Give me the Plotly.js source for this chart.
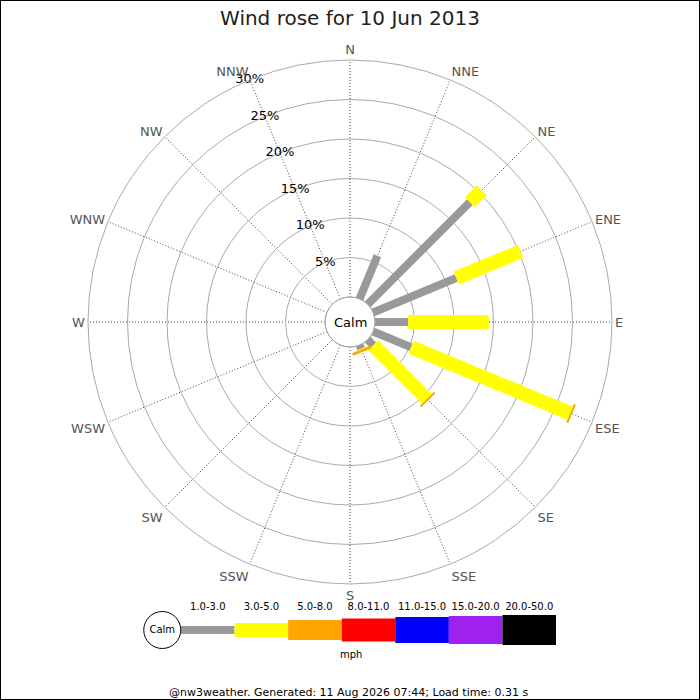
<!DOCTYPE html>
<html>
<head>
<meta charset="utf-8">
<script src="https://cdn.plot.ly/plotly-3.0.1.min.js"></script>
<style>
  html, body { margin: 0; padding: 0; background: #fff; }
  #rose { width: 700px; height: 700px; }
</style>
</head>
<body>
<div id="rose"></div>
<script>
var directions = ['N', 'NNE', 'NE', 'ENE', 'E', 'ESE', 'SE', 'SSE',
  'S', 'SSW', 'SW', 'WSW', 'W', 'WNW', 'NW', 'NNW'];
var speedBins = ['1.0-3.0', '3.0-5.0', '5.0-8.0', '8.0-11.0', '11.0-15.0', '15.0-20.0', '20.0-50.0'];

// percentage of the day per direction, one array per speed bin (mph)
var pct1to3 = [0, 5.9, 18.3, 11.4, 4.2, 5.2, 1.0, 0.5, 0, 0, 0, 0, 0, 0, 0, 0];
var pct3to5 = [0, 0, 2.1, 8.8, 10.2, 21.8, 9.6, 0.1, 0, 0, 0, 0, 0, 0, 0, 0];
var pct5to8 = [0, 0, 0, 0, 0, 0.25, 0.25, 0.35, 0, 0, 0, 0, 0, 0, 0, 0];
var pct8to11 = [0, 0, 0, 0, 0, 0, 0, 0, 0, 0, 0, 0, 0, 0, 0, 0];
var pct11to15 = [0, 0, 0, 0, 0, 0, 0, 0, 0, 0, 0, 0, 0, 0, 0, 0];
var pct15to20 = [0, 0, 0, 0, 0, 0, 0, 0, 0, 0, 0, 0, 0, 0, 0, 0];
var pct20to50 = [0, 0, 0, 0, 0, 0, 0, 0, 0, 0, 0, 0, 0, 0, 0, 0];

var radialTicks = [5, 10, 15, 20, 25, 30];
var radialLabels = ['5%', '10%', '15%', '20%', '25%', '30%'];

var binColors = ['#999999', '#ffff00', '#ffa500', '#ff0000', '#0000ff', '#a020f0', '#000000'];
var binWidths = [8, 14, 20, 23, 26, 28, 30];

var FONT = 'DejaVu Sans, Verdana, sans-serif';
var allBins = [pct1to3, pct3to5, pct5to8, pct8to11, pct11to15, pct15to20, pct20to50];

var traces = [];
var base = directions.map(function () { return 0; });

allBins.forEach(function (values, b) {
  var r = [];
  var theta = [];
  values.forEach(function (v, i) {
    if (v > 0) {
      r.push(base[i], base[i] + v, null);
      theta.push(directions[i], directions[i], null);
    }
    base[i] += v;
  });
  if (r.length) {
    traces.push({
      type: 'scatterpolar',
      mode: 'lines',
      r: r,
      theta: theta,
      connectgaps: false,
      line: { color: binColors[b], width: binWidths[b] },
      hoverinfo: 'skip',
      showlegend: false
    });
  }
});

// radial labels sit on the NNW spoke
traces.push({
  type: 'scatterpolar',
  mode: 'text',
  r: radialTicks,
  theta: radialTicks.map(function () { return 'NNW'; }),
  text: radialLabels,
  textposition: 'middle center',
  textfont: { family: FONT, size: 13, color: '#000' },
  cliponaxis: false,
  hoverinfo: 'skip',
  showlegend: false
});

// speed key underneath
speedBins.forEach(function (label, b) {
  traces.push({
    type: 'scatter',
    mode: 'lines',
    x: [b, b + 1],
    y: [0, 0],
    xaxis: 'x',
    yaxis: 'y',
    line: { color: binColors[b], width: binWidths[b] },
    hoverinfo: 'skip',
    showlegend: false
  });
});
traces.push({
  type: 'scatter',
  mode: 'text',
  x: speedBins.map(function (s, b) { return b + 0.5; }),
  y: speedBins.map(function () { return 23; }),
  text: speedBins,
  textposition: 'middle center',
  textfont: { family: FONT, size: 10, color: '#000' },
  cliponaxis: false,
  hoverinfo: 'skip',
  showlegend: false
});
traces.push({
  type: 'scatter',
  mode: 'markers+text',
  x: [-0.35],
  y: [0],
  text: ['Calm'],
  textposition: 'middle center',
  textfont: { family: FONT, size: 10, color: '#000' },
  marker: { size: 37, color: '#fff', line: { color: '#000', width: 1 } },
  cliponaxis: false,
  hoverinfo: 'skip',
  showlegend: false
});

var layout = {
  width: 700,
  height: 700,
  margin: { l: 0, r: 0, t: 0, b: 0, pad: 0 },
  paper_bgcolor: '#fff',
  plot_bgcolor: '#fff',
  font: { family: FONT, color: '#000' },
  showlegend: false,
  title: {
    text: 'Wind rose for 10 Jun 2013',
    x: 0.5,
    xanchor: 'center',
    y: 1 - 18 / 700,
    yanchor: 'middle',
    font: { family: FONT, size: 20, color: '#222' }
  },
  polar: {
    domain: { x: [88 / 700, 612 / 700], y: [116 / 700, 640 / 700] },
    bgcolor: '#fff',
    hole: 25 / 262,
    radialaxis: {
      range: [0, 30],
      tickvals: radialTicks,
      showticklabels: false,
      ticks: '',
      showline: false,
      showgrid: true,
      gridcolor: '#aaaaaa',
      gridwidth: 1
    },
    angularaxis: {
      type: 'category',
      categoryarray: directions,
      rotation: 90,
      direction: 'clockwise',
      showline: true,
      linecolor: '#aaaaaa',
      linewidth: 1,
      showgrid: true,
      gridcolor: '#444444',
      griddash: '1px,2px',
      gridwidth: 1,
      ticks: '',
      tickfont: { family: FONT, size: 13, color: '#555' }
    }
  },
  xaxis: {
    domain: [140 / 700, 556 / 700],
    range: [-41 / 53.57, 7],
    visible: false,
    fixedrange: true
  },
  yaxis: {
    domain: [40 / 700, 100 / 700],
    range: [-30, 30],
    visible: false,
    fixedrange: true
  },
  shapes: [
    {
      type: 'circle',
      xref: 'paper',
      yref: 'paper',
      x0: 325 / 700,
      x1: 375 / 700,
      y0: (700 - 347) / 700,
      y1: (700 - 297) / 700,
      line: { color: '#aaaaaa', width: 1 },
      fillcolor: 'rgba(0,0,0,0)'
    },
    {
      type: 'rect',
      xref: 'paper',
      yref: 'paper',
      x0: 0, x1: 1, y0: 0, y1: 1,
      line: { color: '#000', width: 2 }
    }
  ],
  annotations: [
    {
      text: 'Calm',
      xref: 'paper',
      yref: 'paper',
      x: 0.5,
      y: (700 - 322) / 700,
      xanchor: 'center',
      yanchor: 'middle',
      showarrow: false,
      font: { family: FONT, size: 13, color: '#000' }
    },
    {
      text: 'mph',
      xref: 'paper',
      yref: 'paper',
      x: 351 / 700,
      y: (700 - 654) / 700,
      xanchor: 'center',
      yanchor: 'middle',
      showarrow: false,
      font: { family: FONT, size: 10, color: '#000' }
    },
    {
      text: '@nw3weather. Generated: 11 Aug 2026 07:44; Load time: 0.31 s',
      xref: 'paper',
      yref: 'paper',
      x: 348 / 700,
      y: (700 - 692) / 700,
      xanchor: 'center',
      yanchor: 'middle',
      showarrow: false,
      font: { family: FONT, size: 11, color: '#000' }
    }
  ]
};

var config = {
  responsive: false,
  displayModeBar: false,
  staticPlot: true
};

Plotly.newPlot('rose', traces, layout, config);
</script>
</body>
</html>
